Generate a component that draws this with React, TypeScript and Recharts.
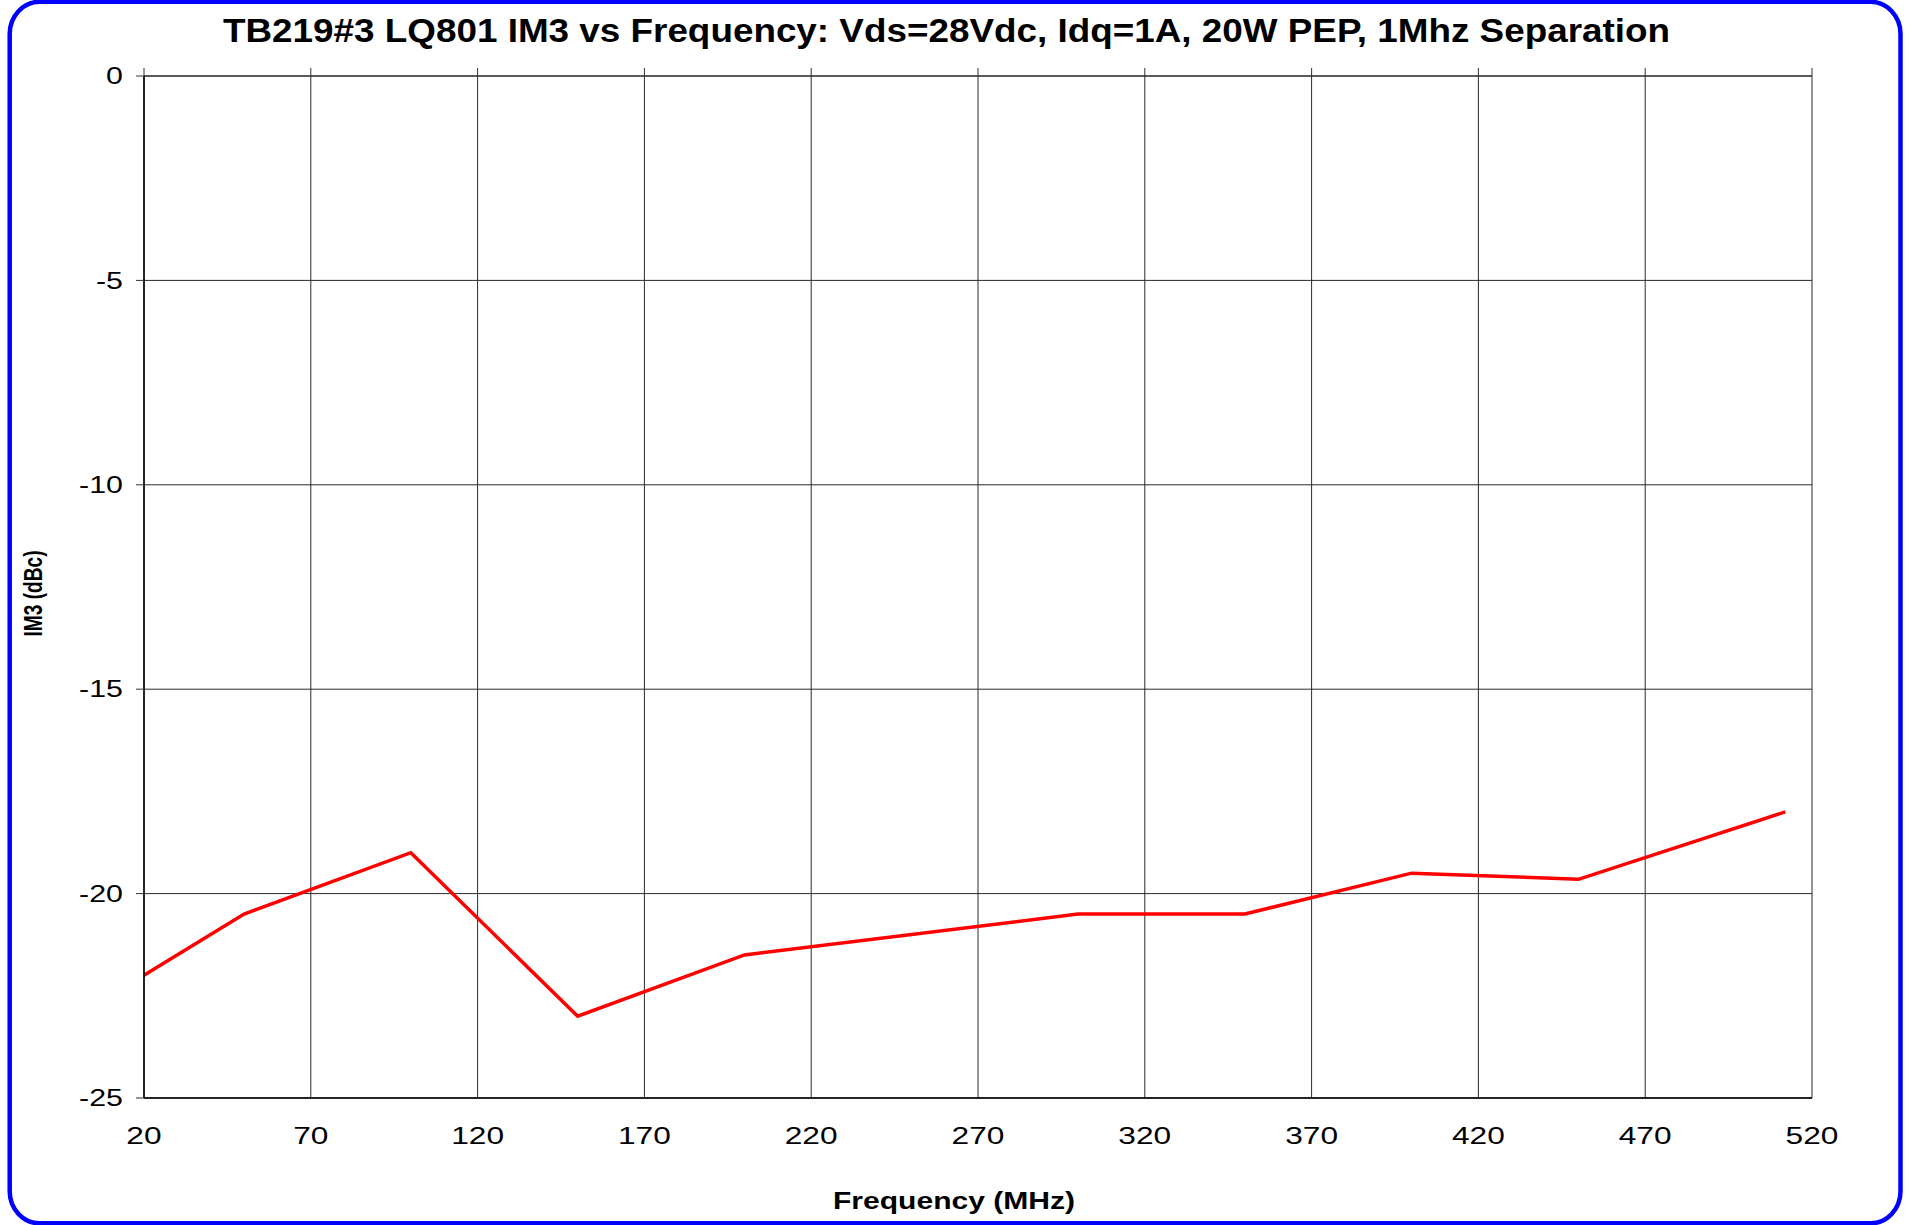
import { LineChart, Line, XAxis, YAxis, CartesianGrid, Label } from "recharts";

// IM3 readings
const frequencies = [20, 50, 100, 150, 200, 300, 350, 400, 450, 512];
const im3Values = [-22, -20.5, -19, -23, -21.5, -20.5, -20.5, -19.5, -19.65, -18];

const xTicks = [20, 70, 120, 170, 220, 270, 320, 370, 420, 470, 520];
const yTicks = [0, -5, -10, -15, -20, -25];

const chartData = frequencies.map((f, i) => ({ freq: f, im3: im3Values[i] }));

const FONT = '"Liberation Sans", Arial, sans-serif';
const STRETCH = 1.32;

// rough Arial advance widths, used to stretch the text like the original
const textWidth = (s: string, size: number) =>
  s.split("").reduce((w, ch) => w + (ch === "-" ? 0.333 : 0.556), 0) * size * STRETCH;

const BottomTick = (props: any) => {
  const { x, y, payload } = props;
  const label = String(payload.value);
  return (
    <text
      x={x}
      y={y + 46}
      textAnchor="middle"
      fontFamily={FONT}
      fontSize={24}
      fill="#000"
      textLength={textWidth(label, 24)}
      lengthAdjust="spacingAndGlyphs"
    >
      {label}
    </text>
  );
};

const LeftTick = (props: any) => {
  const { x, y, payload } = props;
  const label = String(payload.value);
  return (
    <text
      x={x - 13}
      y={y}
      dy="0.36em"
      textAnchor="end"
      fontFamily={FONT}
      fontSize={23}
      fill="#000"
      textLength={textWidth(label, 23)}
      lengthAdjust="spacingAndGlyphs"
    >
      {label}
    </text>
  );
};

export default function App() {
  return (
    <div style={{ position: "absolute", left: 0, top: 0, width: 1911, height: 1225, background: "#fff" }}>
      <svg width={1911} height={1225} style={{ position: "absolute", left: 0, top: 0 }}>
        <rect x={9.7} y={1.8} width={1890.8} height={1221.5} rx={30} ry={32} fill="#fff" stroke="#0000ff" strokeWidth={4.5} />
        <text
          x={946.5}
          y={42}
          textAnchor="middle"
          fontFamily={FONT}
          fontWeight="bold"
          fontSize={33}
          textLength={1447}
          lengthAdjust="spacingAndGlyphs"
        >
          TB219#3 LQ801 IM3 vs Frequency: Vds=28Vdc, Idq=1A, 20W PEP, 1Mhz Separation
        </text>
      </svg>
      <div style={{ position: "absolute", left: 0, top: 0 }}>
        <LineChart width={1911} height={1225} data={chartData} margin={{ top: 0, right: 99, bottom: 0, left: 0 }}>
          <CartesianGrid xAxisId="bottom" stroke="#2a2a2a" strokeWidth={1} />
          <XAxis
            xAxisId="top"
            orientation="top"
            dataKey="freq"
            type="number"
            domain={[20, 520]}
            ticks={xTicks}
            height={76}
            tickSize={8}
            tickLine={{ stroke: "#333" }}
            axisLine={{ stroke: "#222" }}
            tick={() => <g />}
          />
          <XAxis
            xAxisId="bottom"
            orientation="bottom"
            dataKey="freq"
            type="number"
            domain={[20, 520]}
            ticks={xTicks}
            height={127}
            tickSize={0}
            tickMargin={0}
            tickLine={false}
            axisLine={{ stroke: "#000", strokeWidth: 1.5 }}
            tick={<BottomTick />}
          >
            <Label
              content={() => (
                <text
                  x={954}
                  y={1209}
                  textAnchor="middle"
                  fontFamily={FONT}
                  fontWeight="bold"
                  fontSize={23}
                  textLength={242}
                  lengthAdjust="spacingAndGlyphs"
                >
                  Frequency (MHz)
                </text>
              )}
            />
          </XAxis>
          <YAxis
            type="number"
            domain={[-25, 0]}
            ticks={yTicks}
            width={144}
            tickSize={8}
            tickMargin={0}
            tickLine={{ stroke: "#333" }}
            axisLine={{ stroke: "#000", strokeWidth: 1.5 }}
            tick={<LeftTick />}
          >
            <Label
              content={() => (
                <text
                  x={41.5}
                  y={593.5}
                  transform="rotate(-90 41.5 593.5)"
                  textAnchor="middle"
                  fontFamily={FONT}
                  fontWeight="bold"
                  fontSize={26}
                  textLength={86}
                  lengthAdjust="spacingAndGlyphs"
                >
                  IM3 (dBc)
                </text>
              )}
            />
          </YAxis>
          <Line
            xAxisId="bottom"
            dataKey="im3"
            type="linear"
            stroke="#ff0000"
            strokeWidth={3.5}
            dot={false}
            isAnimationActive={false}
          />
        </LineChart>
      </div>
    </div>
  );
}
